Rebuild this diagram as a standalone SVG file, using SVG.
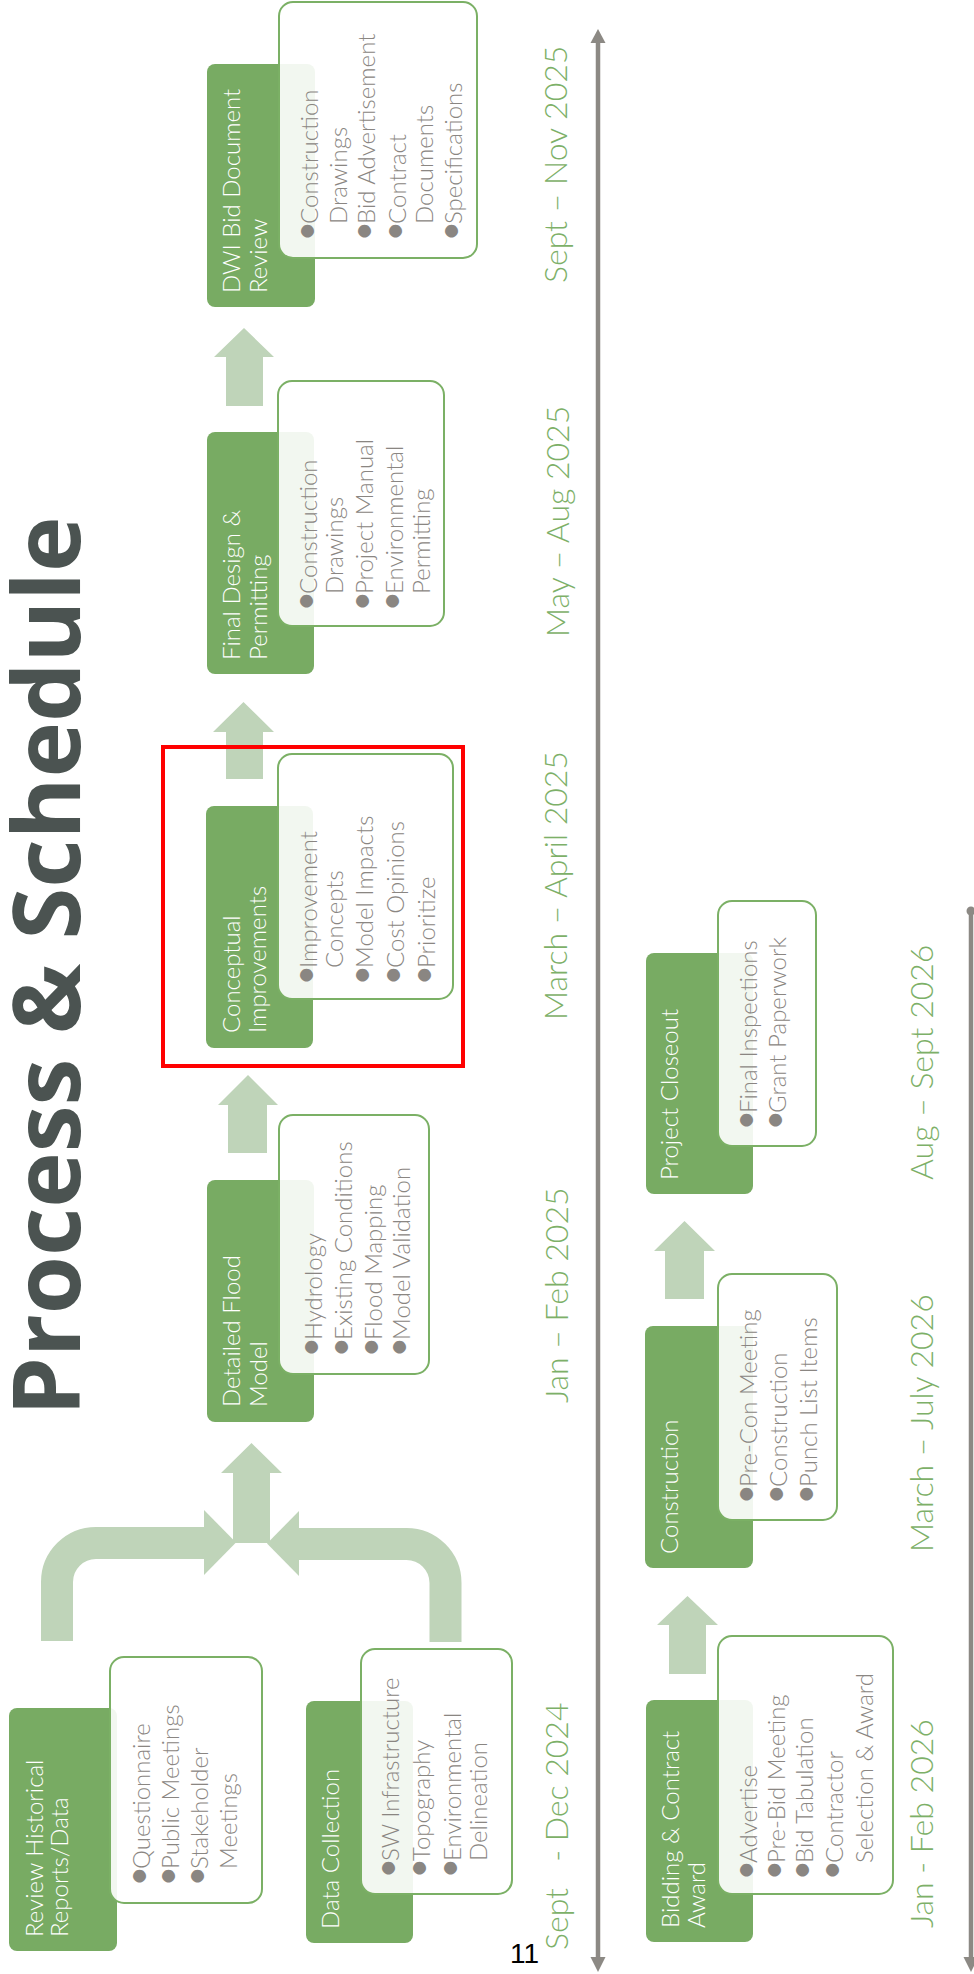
<svg xmlns="http://www.w3.org/2000/svg" width="974" height="1974" viewBox="0 0 974 1974">
<style>
.g{fill:#78ab63}
.w{fill:#ffffff;fill-opacity:0.9;stroke:#7bb065;stroke-width:2}
.t{font-family:Lato,"Noto Sans",sans-serif;font-size:24px;font-weight:300;fill:#ffffff}
.b{font-family:Lato,"Noto Sans",sans-serif;font-size:24px;font-weight:300;fill:#8a8682}
.bd{font-family:Lato,"Noto Sans",sans-serif;font-size:34px;fill:#8a8682;text-anchor:middle}
.d{font-family:Lato,"Noto Sans",sans-serif;font-size:32px;font-weight:300;fill:#7db068;white-space:pre}
.a{fill:#bfd4b9}
.br{fill:none;stroke:#bfd4b9;stroke-width:32}
.tl{fill:none;stroke:#8c8984;stroke-width:4.5}
.ah{fill:#8c8984}
</style>
<rect width="974" height="1974" fill="#ffffff"/>
<g transform="translate(0,1974) rotate(-90)">
  <text x="558" y="80" font-family="'Open Sans',Lato,sans-serif" font-weight="700" font-size="94" fill="#4b5351">Process &amp; Schedule</text>

  <g id="connectors">
    <path class="tl" d="M17 598 H1931"/>
    <polygon class="ah" points="1931,590.5 1945,598 1931,605.5"/>
    <polygon class="ah" points="17,590.5 2,598 17,605.5"/>
    <path class="tl" d="M1063 971 H17"/>
    <circle class="ah" cx="1063" cy="971" r="4.5"/>
    <polygon class="ah" points="17,963.5 2,971 17,978.5"/>

    <path class="br" d="M333 57 H392 A39 39 0 0 1 431 96 V205"/>
    <polygon class="a" points="399,204 464,204 431.5,236"/>
    <path class="br" d="M332 445.5 H391 A39 39 0 0 0 430 406.5 V298"/>
    <polygon class="a" points="398,299 463,299 430.5,267"/>
    <path class="a" d="M431 233 H501 V221 L531 251.5 L501 282 V270 H431 Z"/>

    <path class="a" d="M821 228 H869 V218 L899 248 L869 278 V267 H821 Z"/>
    <path class="a" d="M1195 226 H1242 V213 L1272 243.5 L1242 274 V263 H1195 Z"/>
    <path class="a" d="M1568 226 H1617 V214 L1646 244 L1617 274 V263 H1568 Z"/>
    <path class="a" d="M300 669 H349 V657 L378 687.5 L349 718 V706 H300 Z"/>
    <path class="a" d="M675 665 H723 V654 L753 684.5 L723 715 V704 H675 Z"/>
  </g>

  <g id="review">
    <rect class="g" x="23" y="9" width="243" height="108" rx="8"/>
    <rect class="w" x="71" y="110" width="246" height="152" rx="14"/>
    <text class="t" x="37" y="43">Review Historical</text>
    <text class="t" x="37" y="68">Reports/Data</text>
    <text class="bd" x="98" y="150">•</text><text class="b" x="105" y="150">Questionnaire</text>
    <text class="bd" x="98" y="179">•</text><text class="b" x="105" y="179">Public Meetings</text>
    <text class="bd" x="98" y="208">•</text><text class="b" x="105" y="208">Stakeholder</text>
    <text class="b" x="105" y="237">Meetings</text>
  </g>

  <g id="data-collection">
    <rect class="g" x="31" y="306" width="242" height="107" rx="8"/>
    <rect class="w" x="80" y="361" width="245" height="151" rx="14"/>
    <text class="t" x="45" y="339">Data Collection</text>
    <text class="bd" x="106" y="399">•</text><text class="b" x="113" y="399">SW Infrastructure</text>
    <text class="bd" x="106" y="430">•</text><text class="b" x="113" y="430">Topography</text>
    <text class="bd" x="106" y="461">•</text><text class="b" x="113" y="461">Environmental</text>
    <text class="b" x="113" y="487">Delineation</text>
  </g>

  <g id="detailed-flood-model">
    <rect class="g" x="552" y="207" width="242" height="107" rx="8"/>
    <rect class="w" x="600" y="279" width="259" height="150" rx="14"/>
    <text class="t" x="567" y="240">Detailed Flood</text>
    <text class="t" x="567" y="267">Model</text>
    <text class="bd" x="627" y="322">•</text><text class="b" x="634" y="322">Hydrology</text>
    <text class="bd" x="627" y="352">•</text><text class="b" x="634" y="352">Existing Conditions</text>
    <text class="bd" x="627" y="382">•</text><text class="b" x="634" y="382">Flood Mapping</text>
    <text class="bd" x="627" y="410">•</text><text class="b" x="634" y="410">Model Validation</text>
  </g>

  <g id="conceptual-improvements">
    <rect class="g" x="926" y="206" width="242" height="107" rx="8"/>
    <rect class="w" x="975" y="278" width="245" height="175" rx="14"/>
    <text class="t" x="941" y="240">Conceptual</text>
    <text class="t" x="941" y="266">Improvements</text>
    <text class="bd" x="999" y="317">•</text><text class="b" x="1006" y="317">Improvement</text>
    <text class="b" x="1006" y="343">Concepts</text>
    <text class="bd" x="999" y="373">•</text><text class="b" x="1006" y="373">Model Impacts</text>
    <text class="bd" x="999" y="404">•</text><text class="b" x="1006" y="404">Cost Opinions</text>
    <text class="bd" x="999" y="435">•</text><text class="b" x="1006" y="435">Prioritize</text>
  </g>

  <g id="final-design">
    <rect class="g" x="1300" y="207" width="242" height="107" rx="8"/>
    <rect class="w" x="1348" y="278" width="245" height="166" rx="14"/>
    <text class="t" x="1314" y="240">Final Design &amp;</text>
    <text class="t" x="1314" y="267">Permitting</text>
    <text class="bd" x="1373" y="317">•</text><text class="b" x="1380" y="317">Construction</text>
    <text class="b" x="1380" y="343">Drawings</text>
    <text class="bd" x="1373" y="373">•</text><text class="b" x="1380" y="373">Project Manual</text>
    <text class="bd" x="1373" y="403">•</text><text class="b" x="1380" y="403">Environmental</text>
    <text class="b" x="1380" y="430">Permitting</text>
  </g>

  <g id="dwi-bid-review">
    <rect class="g" x="1667" y="207" width="243" height="108" rx="8"/>
    <rect class="w" x="1716" y="279" width="256" height="198" rx="14"/>
    <text class="t" x="1681" y="240">DWI Bid Document</text>
    <text class="t" x="1681" y="267">Review</text>
    <text class="bd" x="1743" y="318">•</text><text class="b" x="1750" y="318">Construction</text>
    <text class="b" x="1750" y="347">Drawings</text>
    <text class="bd" x="1743" y="375">•</text><text class="b" x="1750" y="375">Bid Advertisement</text>
    <text class="bd" x="1743" y="406">•</text><text class="b" x="1750" y="406">Contract</text>
    <text class="b" x="1750" y="433">Documents</text>
    <text class="bd" x="1743" y="462">•</text><text class="b" x="1750" y="462">Specifications</text>
  </g>

  <g id="bidding">
    <rect class="g" x="32" y="646" width="242" height="107" rx="8"/>
    <rect class="w" x="80" y="718" width="258" height="175" rx="14"/>
    <text class="t" x="46" y="679">Bidding &amp; Contract</text>
    <text class="t" x="46" y="705">Award</text>
    <text class="bd" x="104" y="757">•</text><text class="b" x="111" y="757">Advertise</text>
    <text class="bd" x="104" y="785">•</text><text class="b" x="111" y="785">Pre-Bid Meeting</text>
    <text class="bd" x="104" y="813">•</text><text class="b" x="111" y="813">Bid Tabulation</text>
    <text class="bd" x="104" y="843">•</text><text class="b" x="111" y="843">Contractor</text>
    <text class="b" x="111" y="873">Selection &amp; Award</text>
  </g>

  <g id="construction">
    <rect class="g" x="406" y="645" width="242" height="108" rx="8"/>
    <rect class="w" x="454" y="718" width="246" height="119" rx="14"/>
    <text class="t" x="420" y="678">Construction</text>
    <text class="bd" x="480" y="757">•</text><text class="b" x="487" y="757">Pre-Con Meeting</text>
    <text class="bd" x="480" y="787">•</text><text class="b" x="487" y="787">Construction</text>
    <text class="bd" x="480" y="817">•</text><text class="b" x="487" y="817">Punch List Items</text>
  </g>

  <g id="project-closeout">
    <rect class="g" x="780" y="646" width="241" height="107" rx="8"/>
    <rect class="w" x="828" y="718" width="245" height="98" rx="14"/>
    <text class="t" x="794" y="678">Project Closeout</text>
    <text class="bd" x="854" y="757">•</text><text class="b" x="861" y="757">Final Inspections</text>
    <text class="bd" x="854" y="786">•</text><text class="b" x="861" y="786">Grant Paperwork</text>
  </g>

  <g id="dates">
    <text class="d" x="24" y="568">Sept   - Dec 2024</text>
    <text class="d" x="571" y="568">Jan – Feb 2025</text>
    <text class="d" x="954" y="567">March – April 2025</text>
    <text class="d" x="1337" y="569">May – Aug 2025</text>
    <text class="d" x="1691" y="567">Sept – Nov 2025</text>
    <text class="d" x="46" y="933">Jan - Feb 2026</text>
    <text class="d" x="422" y="933">March – July 2026</text>
    <text class="d" x="794" y="933">Aug – Sept 2026</text>
  </g>

  <rect id="highlight" x="908" y="163" width="319" height="300" fill="none" stroke="#ff0000" stroke-width="4"/>
</g>
<text x="510" y="1963" font-family="'Liberation Sans',Arial,sans-serif" font-size="28" fill="#000000">11</text>
</svg>
